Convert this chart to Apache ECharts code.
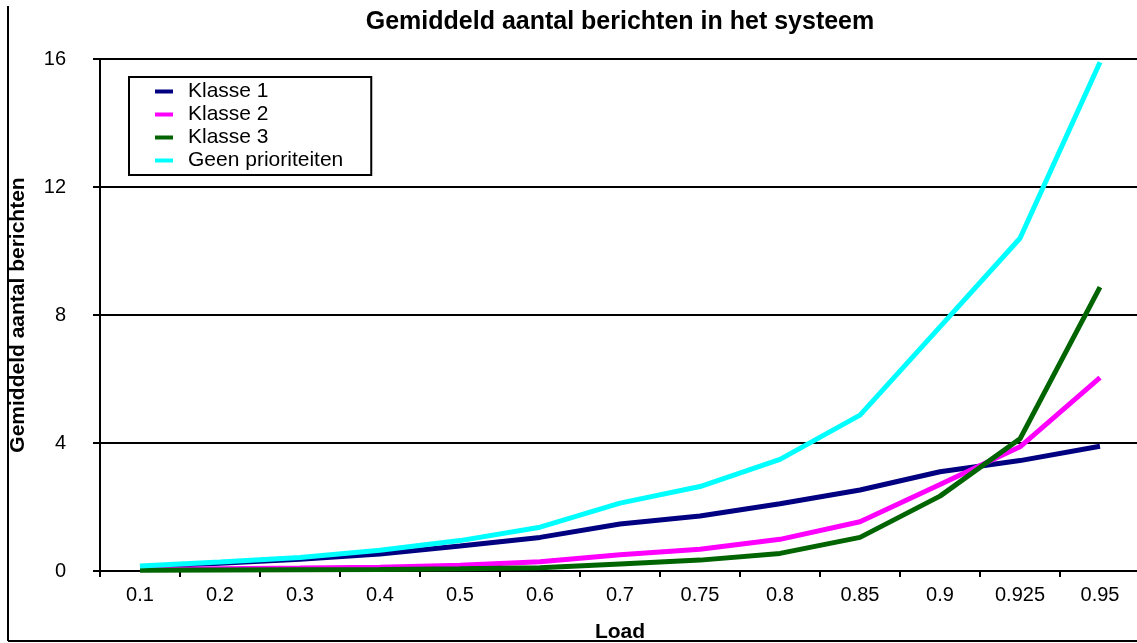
<!DOCTYPE html>
<html>
<head>
<meta charset="utf-8">
<script src="https://cdn.jsdelivr.net/npm/echarts@6/dist/echarts.min.js"></script>
<style>
  html, body { margin: 0; padding: 0; background: #fff; }
  #chart { width: 1137px; height: 643px; }
</style>
</head>
<body>
<div id="chart"></div>
<script>
// Load levels on the x axis
const loads = ['0.1', '0.2', '0.3', '0.4', '0.5', '0.6', '0.7', '0.75', '0.8', '0.85', '0.9', '0.925', '0.95'];

// Mean number of messages in the system, per priority class
const klasse1 = [0.13, 0.24, 0.37, 0.53, 0.78, 1.05, 1.47, 1.72, 2.1, 2.53, 3.1, 3.45, 3.9];
const klasse2 = [0.05, 0.07, 0.09, 0.12, 0.18, 0.29, 0.51, 0.68, 0.99, 1.54, 2.7, 3.88, 6.04];
const klasse3 = [0.02, 0.03, 0.04, 0.05, 0.07, 0.1, 0.22, 0.34, 0.55, 1.05, 2.34, 4.13, 8.87];
const geenPrioriteiten = [0.16, 0.28, 0.42, 0.65, 0.95, 1.37, 2.12, 2.64, 3.49, 4.87, 7.63, 10.4, 15.9];

const yTicks = [0, 4, 8, 12, 16];

const FONT = '"Liberation Sans", Arial, sans-serif';

const seriesDefs = [
  { name: 'Klasse 1', data: klasse1, color: '#000080' },
  { name: 'Klasse 2', data: klasse2, color: '#FF00FF' },
  { name: 'Klasse 3', data: klasse3, color: '#006400' },
  { name: 'Geen prioriteiten', data: geenPrioriteiten, color: '#00FFFF' }
];

const chart = echarts.init(document.getElementById('chart'), null, { renderer: 'canvas' });

chart.setOption({
  animation: false,
  backgroundColor: '#ffffff',
  title: {
    text: 'Gemiddeld aantal berichten in het systeem',
    left: 620,
    top: 10,
    padding: 0,
    textAlign: 'center',
    textStyle: { fontFamily: FONT, fontWeight: 'bold', fontSize: 25, color: '#000' }
  },
  legend: {
    orient: 'vertical',
    left: 129,
    top: 77,
    padding: [3, 28, 3, 26],
    itemGap: 0,
    itemWidth: 18,
    itemHeight: 4,
    icon: 'rect',
    borderColor: '#000',
    borderWidth: 2,
    backgroundColor: '#fff',
    textStyle: { fontFamily: FONT, fontSize: 21, color: '#000', lineHeight: 23, padding: [0, 0, 0, 10] },
    data: seriesDefs.map(s => s.name)
  },
  grid: { left: 100, top: 59, width: 1040, height: 512, containLabel: false, outerBoundsMode: 'none' },
  xAxis: {
    type: 'category',
    data: loads,
    boundaryGap: true,
    name: 'Load',
    nameLocation: 'middle',
    nameGap: 51,
    nameTextStyle: { fontFamily: FONT, fontWeight: 'bold', fontSize: 21, color: '#000' },
    axisLine: { lineStyle: { color: '#000', width: 2 } },
    axisTick: { show: true, interval: 0, length: 6, lineStyle: { color: '#000', width: 2 } },
    axisLabel: { interval: 0, margin: 14, fontFamily: FONT, fontSize: 20, color: '#000' },
    splitLine: { show: false }
  },
  yAxis: {
    type: 'value',
    min: yTicks[0],
    max: yTicks[yTicks.length - 1],
    interval: 4,
    name: 'Gemiddeld aantal berichten',
    nameLocation: 'middle',
    nameRotate: 90,
    nameGap: 71,
    nameTextStyle: { fontFamily: FONT, fontWeight: 'bold', fontSize: 21, color: '#000' },
    axisLine: { show: true, lineStyle: { color: '#000', width: 2 } },
    axisTick: { show: true, length: 7, lineStyle: { color: '#000', width: 2 } },
    axisLabel: { margin: 34, fontFamily: FONT, fontSize: 20, color: '#000' },
    splitLine: { show: true, lineStyle: { color: '#000', width: 2 } }
  },
  series: seriesDefs.map(s => ({
    name: s.name,
    type: 'line',
    data: s.data,
    symbol: 'none',
    smooth: false,
    color: s.color,
    lineStyle: { color: s.color, width: 5 },
    clip: false
  })),
  graphic: [
    // outer frame: left and bottom edges
    { type: 'line', shape: { x1: 8, y1: 6, x2: 8, y2: 641 }, style: { stroke: '#000', lineWidth: 2 } },
    { type: 'line', shape: { x1: 8, y1: 641, x2: 1137, y2: 641 }, style: { stroke: '#000', lineWidth: 2 } }
  ]
});
</script>
</body>
</html>
